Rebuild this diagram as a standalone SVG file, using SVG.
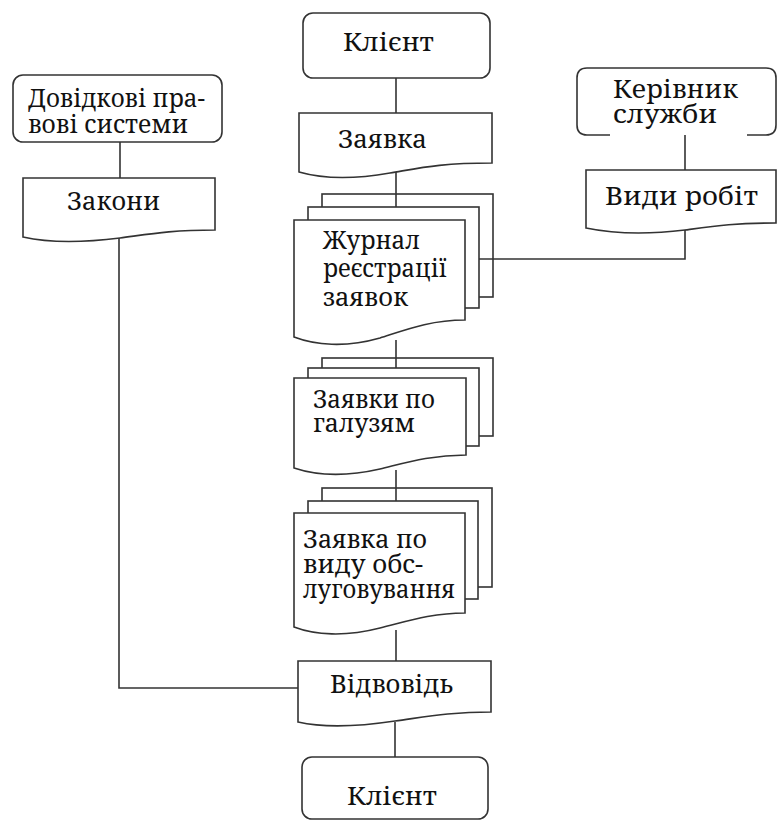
<svg xmlns="http://www.w3.org/2000/svg" width="779" height="822" viewBox="0 0 779 822">
<style>
.s{fill:#fff;stroke:#333;stroke-width:1.6}
.n{fill:none;stroke:#333;stroke-width:1.6}
.c{fill:none;stroke:#333;stroke-width:1.6}
.t{font-family:'Noto Serif','DejaVu Serif',serif;font-size:26px;fill:#111}
</style>
<rect width="779" height="822" fill="#fff"/>
<g id="connectors">
<path class="c" d="M396,78 V113"/>
<path class="c" d="M396,170 V220"/>
<path class="c" d="M396,340 V378"/>
<path class="c" d="M396,470 V513"/>
<path class="c" d="M396,630 V661"/>
<path class="c" d="M395,722 V757"/>
<path class="c" d="M120,142 V178"/>
<path class="c" d="M119,237 V688 H298"/>
<path class="c" d="M685,135 V170"/>
<path class="c" d="M685,228 V259 H479"/>
</g>
<g id="client-top">
<rect class="s" x="303" y="13" width="187" height="65" rx="10"/>
<text class="t" x="343" y="51" textLength="91" lengthAdjust="spacingAndGlyphs">Клієнт</text>
</g>
<g id="zayavka">
<path class="s" d="M299,113 H492 V163 C440,163 420,168 390,173 C350,180 320,178 299,172 Z"/>
<text class="t" x="338" y="148" textLength="89" lengthAdjust="spacingAndGlyphs">Заявка</text>
</g>
<g id="dovidkovi">
<rect class="s" x="13" y="75" width="209" height="67" rx="10"/>
<text class="t" x="28" y="107" textLength="177" lengthAdjust="spacingAndGlyphs">Довідкові пра-</text>
<text class="t" x="28" y="133" textLength="160" lengthAdjust="spacingAndGlyphs">вові системи</text>
</g>
<g id="zakony">
<path class="s" d="M23,178 H215 V230 C170,230 150,234 120,238 C80,243 45,242 23,237 Z"/>
<text class="t" x="67" y="210" textLength="93" lengthAdjust="spacingAndGlyphs">Закони</text>
</g>
<g id="kerivnyk">
<path class="n" d="M610,135 H587 Q577,135 577,125 V78 Q577,68 587,68 H766 Q776,68 776,78 V125 Q776,135 766,135 H747"/>
<text class="t" x="613" y="98" textLength="125" lengthAdjust="spacingAndGlyphs">Керівник</text>
<text class="t" x="613" y="123" textLength="104" lengthAdjust="spacingAndGlyphs">служби</text>
</g>
<g id="vydy-robit">
<path class="s" d="M586,170 H776 V223 C735,223 715,226 685,230 C645,235 610,233 586,228 Z"/>
<text class="t" x="605" y="205" textLength="153" lengthAdjust="spacingAndGlyphs">Види робіт</text>
</g>
<g id="zhurnal">
<rect class="n" x="322" y="194" width="171" height="103"/>
<rect class="s" x="308" y="207" width="171" height="101"/>
<path class="s" d="M294,220 H465 V320 C430,320 405,330 380,338 C345,348 315,345 294,337 Z"/>
<text class="t" x="323" y="249" textLength="97" lengthAdjust="spacingAndGlyphs">Журнал</text>
<text class="t" x="323" y="277" textLength="124" lengthAdjust="spacingAndGlyphs">реєстрації</text>
<text class="t" x="323" y="306" textLength="85" lengthAdjust="spacingAndGlyphs">заявок</text>
</g>
<g id="zayavky-po-haluziam">
<rect class="n" x="322" y="358" width="171" height="78"/>
<rect class="s" x="308" y="368" width="171" height="78"/>
<path class="s" d="M294,378 H466 V455 C430,455 405,463 380,469 C345,477 315,475 294,468 Z"/>
<text class="t" x="313" y="408" textLength="122" lengthAdjust="spacingAndGlyphs">Заявки по</text>
<text class="t" x="313" y="432" textLength="102" lengthAdjust="spacingAndGlyphs">галузям</text>
</g>
<g id="zayavka-po-vydu">
<rect class="n" x="322" y="488" width="170" height="99"/>
<rect class="s" x="308" y="501" width="170" height="98"/>
<path class="s" d="M294,513 H465 V613 C430,613 405,622 380,628 C345,637 315,635 294,627 Z"/>
<text class="t" x="303" y="548" textLength="124" lengthAdjust="spacingAndGlyphs">Заявка по</text>
<text class="t" x="303" y="573" textLength="120" lengthAdjust="spacingAndGlyphs">виду обс-</text>
<text class="t" x="303" y="598" textLength="152" lengthAdjust="spacingAndGlyphs">луговування</text>
</g>
<g id="vidpovid">
<path class="s" d="M298,661 H491 V712 C450,712 425,717 395,721 C355,727 320,727 298,722 Z"/>
<text class="t" x="330" y="693" textLength="123" lengthAdjust="spacingAndGlyphs">Відвовідь</text>
</g>
<g id="client-bottom">
<rect class="s" x="302" y="757" width="186" height="62" rx="10"/>
<text class="t" x="347" y="805" textLength="90" lengthAdjust="spacingAndGlyphs">Клієнт</text>
</g>
</svg>
